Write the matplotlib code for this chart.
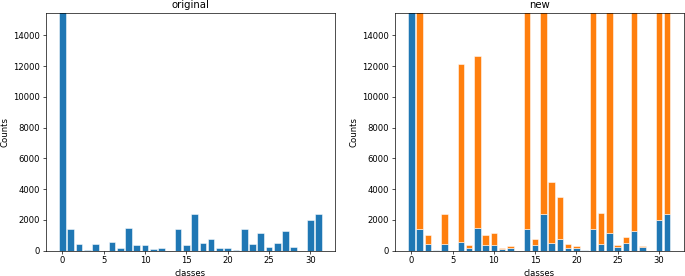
import matplotlib
matplotlib.use("Agg")
import matplotlib.pyplot as plt
import numpy as np

classes = list(range(32))
original = [30000, 1410, 440, 20, 450, 0, 560, 150, 1450, 350, 370, 130, 195, 0,
            1430, 370, 2360, 480, 740, 175, 195, 20, 1430, 450, 1130, 215, 480, 1260,
            215, 0, 1970, 2360]
# totals after resampling (new = original + added)
new_total = [30000, 30000, 1000, 20, 2390, 0, 12140, 390, 12680, 1040, 1110, 175, 280, 0,
             30000, 740, 30000, 4490, 3500, 435, 280, 20, 30000, 2410, 30000, 390, 910, 30000,
             325, 0, 30000, 30000]
added = [t - o for t, o in zip(new_total, original)]

blue = "#1f77b4"
orange = "#ff7f0e"

DPI = 61
fig = plt.figure(figsize=(685 / DPI, 276 / DPI), dpi=DPI)
ax1 = fig.add_axes([46 / 685, 1 - 250.5 / 276, (335 - 46) / 685, (250.5 - 13.3) / 276])
ax2 = fig.add_axes([395 / 685, 1 - 250.5 / 276, (683.5 - 395) / 685, (250.5 - 13.3) / 276])

ax1.bar(classes, original, color=blue, edgecolor="white", linewidth=0.6)
ax1.set_title("original")

ax2.bar(classes, original, color=blue, edgecolor="white", linewidth=0.6)
ax2.bar(classes, added, bottom=original, color=orange, edgecolor="white", linewidth=0.6)
ax2.set_title("new")

for ax in (ax1, ax2):
    ax.set_ylim(0, 15440)
    ax.set_xlabel("classes")
    ax.set_ylabel("Counts")

fig.savefig("out.png", dpi=DPI)
